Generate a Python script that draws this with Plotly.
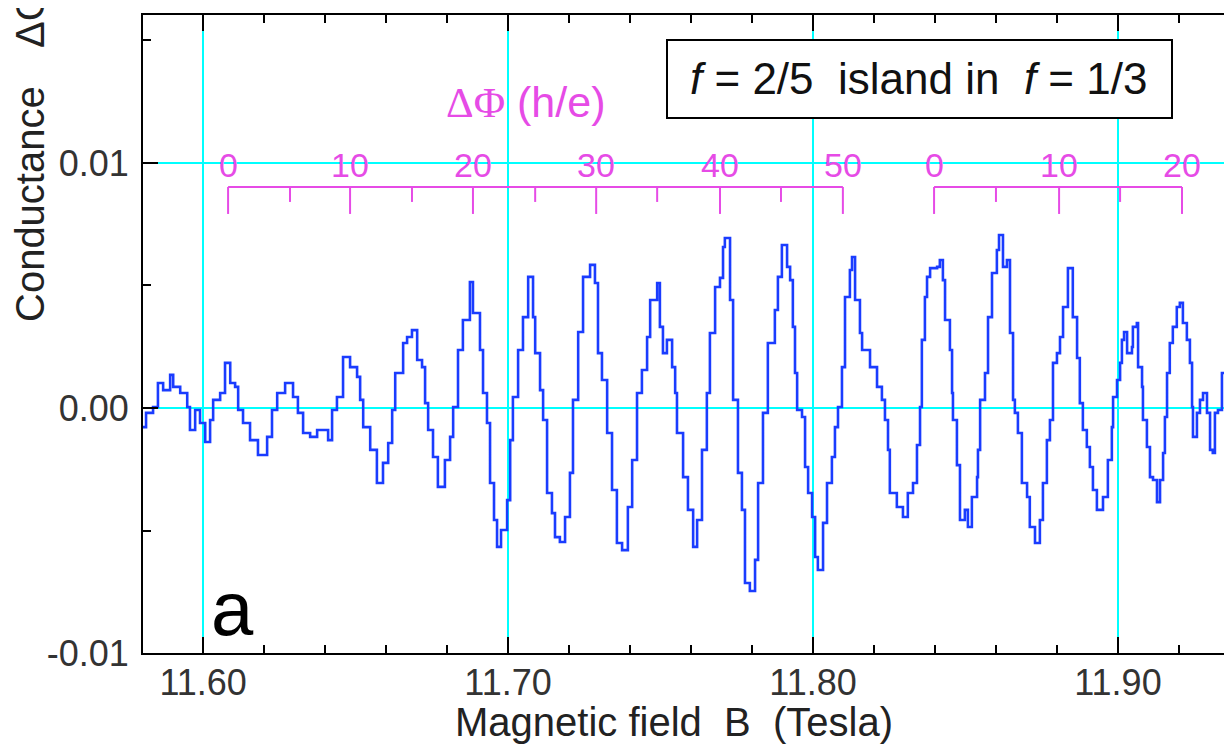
import plotly.graph_objects as go

# ---------------- data ----------------
B_tesla = [
    11.5803, 11.5813, 11.5836, 11.5852, 11.5869, 11.5892, 11.5902, 11.5925, 11.5948, 11.5957,
    11.5974, 11.5990, 11.6007, 11.6023, 11.6033, 11.6056, 11.6072, 11.6089, 11.6105, 11.6115,
    11.6131, 11.6154, 11.6180, 11.6210, 11.6226, 11.6243, 11.6269, 11.6295, 11.6311, 11.6328,
    11.6351, 11.6374, 11.6400, 11.6410, 11.6423, 11.6439, 11.6459, 11.6482, 11.6505, 11.6515,
    11.6525, 11.6548, 11.6570, 11.6590, 11.6607, 11.6620, 11.6630, 11.6656, 11.6669, 11.6685,
    11.6702, 11.6718, 11.6728, 11.6738, 11.6754, 11.6770, 11.6793, 11.6810, 11.6820, 11.6836,
    11.6852, 11.6875, 11.6885, 11.6908, 11.6918, 11.6931, 11.6941, 11.6954, 11.6964, 11.6977,
    11.6997, 11.7007, 11.7016, 11.7033, 11.7049, 11.7066, 11.7082, 11.7089, 11.7105, 11.7115,
    11.7128, 11.7144, 11.7154, 11.7170, 11.7187, 11.7203, 11.7213, 11.7230, 11.7246, 11.7269,
    11.7285, 11.7295, 11.7308, 11.7325, 11.7341, 11.7357, 11.7374, 11.7393, 11.7407, 11.7423,
    11.7439, 11.7456, 11.7466, 11.7489, 11.7498, 11.7508, 11.7521, 11.7538, 11.7548, 11.7554,
    11.7574, 11.7590, 11.7607, 11.7620, 11.7636, 11.7652, 11.7662, 11.7679, 11.7695, 11.7705,
    11.7711, 11.7728, 11.7738, 11.7754, 11.7767, 11.7777, 11.7793, 11.7810, 11.7820, 11.7836,
    11.7852, 11.7875, 11.7885, 11.7898, 11.7915, 11.7925, 11.7934, 11.7941, 11.7948, 11.7964,
    11.7974, 11.7984, 11.7997, 11.8007, 11.8016, 11.8033, 11.8046, 11.8062, 11.8072, 11.8082,
    11.8095, 11.8105, 11.8121, 11.8128, 11.8138, 11.8154, 11.8161, 11.8187, 11.8210, 11.8226,
    11.8236, 11.8246, 11.8252, 11.8275, 11.8295, 11.8311, 11.8328, 11.8341, 11.8351, 11.8357,
    11.8367, 11.8374, 11.8384, 11.8407, 11.8416, 11.8426, 11.8433, 11.8449, 11.8456, 11.8459,
    11.8472, 11.8482, 11.8498, 11.8508, 11.8521, 11.8538, 11.8541, 11.8548, 11.8564, 11.8574,
    11.8587, 11.8603, 11.8610, 11.8623, 11.8636, 11.8646, 11.8656, 11.8662, 11.8672, 11.8685,
    11.8702, 11.8711, 11.8728, 11.8744, 11.8754, 11.8767, 11.8777, 11.8787, 11.8800, 11.8810,
    11.8820, 11.8836, 11.8852, 11.8866, 11.8875, 11.8885, 11.8898, 11.8908, 11.8918, 11.8931,
    11.8951, 11.8967, 11.8980, 11.8984, 11.8997, 11.9007, 11.9013, 11.9020, 11.9030, 11.9046,
    11.9049, 11.9062, 11.9066, 11.9079, 11.9082, 11.9095, 11.9105, 11.9115, 11.9128, 11.9138,
    11.9148, 11.9154, 11.9161, 11.9170, 11.9180, 11.9193, 11.9203, 11.9213, 11.9226, 11.9236,
    11.9243, 11.9246, 11.9259, 11.9269, 11.9279, 11.9292, 11.9302, 11.9311, 11.9318, 11.9328,
    11.9341, 11.9357, 11.9361, 11.9367, 11.9374,
]

dG = [
    -0.00078, -0.00020, 0.00004, 0.00102, 0.00073, 0.00135, 0.00086, 0.00061, 0.00004, -0.00090,
    -0.00008, -0.00061, -0.00139, -0.00049, 0.00033, 0.00061, 0.00184, 0.00102, 0.00086, -0.00008,
    -0.00061, -0.00131, -0.00192, -0.00118, -0.00008, 0.00061, 0.00102, 0.00045, -0.00020, -0.00102,
    -0.00118, -0.00090, -0.00090, -0.00131, -0.00008, 0.00045, 0.00208, 0.00167, 0.00127, 0.00033,
    -0.00078, -0.00171, -0.00306, -0.00224, -0.00143, -0.00008, 0.00143, 0.00265, 0.00290, 0.00318,
    0.00196, 0.00167, 0.00020, -0.00090, -0.00200, -0.00322, -0.00212, -0.00118, 0.00004, 0.00237,
    0.00359, 0.00514, 0.00388, 0.00237, 0.00061, -0.00061, -0.00306, -0.00457, -0.00567, -0.00498,
    -0.00376, -0.00131, 0.00045, 0.00237, 0.00371, 0.00535, 0.00371, 0.00224, 0.00073, -0.00049,
    -0.00347, -0.00429, -0.00527, -0.00547, -0.00445, -0.00265, 0.00033, 0.00310, 0.00535, 0.00584,
    0.00510, 0.00224, 0.00114, -0.00102, -0.00335, -0.00551, -0.00580, -0.00404, -0.00212, 0.00061,
    0.00155, 0.00290, 0.00441, 0.00510, 0.00331, 0.00224, 0.00278, 0.00167, 0.00061, -0.00102,
    -0.00282, -0.00416, -0.00567, -0.00457, -0.00171, 0.00061, 0.00306, 0.00494, 0.00531, 0.00657,
    0.00694, 0.00441, 0.00033, -0.00265, -0.00416, -0.00714, -0.00747, -0.00620, -0.00306, -0.00020,
    0.00265, 0.00400, 0.00535, 0.00665, 0.00576, 0.00522, 0.00331, 0.00143, -0.00008, -0.00037,
    -0.00241, -0.00347, -0.00445, -0.00608, -0.00661, -0.00469, -0.00306, -0.00200, -0.00078, 0.00004,
    0.00167, 0.00453, 0.00563, 0.00616, 0.00441, 0.00306, 0.00237, 0.00167, 0.00086, 0.00033,
    -0.00049, -0.00171, -0.00347, -0.00404, -0.00445, -0.00347, -0.00306, -0.00151, 0.00004, 0.00278,
    0.00453, 0.00535, 0.00571, 0.00576, 0.00604, 0.00522, 0.00359, 0.00237, 0.00061, -0.00049,
    -0.00233, -0.00457, -0.00416, -0.00486, -0.00363, -0.00282, -0.00171, 0.00033, 0.00143, 0.00371,
    0.00551, 0.00645, 0.00706, 0.00576, 0.00604, 0.00306, 0.00033, -0.00020, -0.00102, -0.00306,
    -0.00363, -0.00486, -0.00551, -0.00457, -0.00306, -0.00131, -0.00049, 0.00184, 0.00224, 0.00290,
    0.00412, 0.00571, 0.00371, 0.00204, 0.00020, -0.00090, -0.00159, -0.00241, -0.00335, -0.00416,
    -0.00363, -0.00212, -0.00078, 0.00045, 0.00114, 0.00184, 0.00278, 0.00310, 0.00224, 0.00249,
    0.00331, 0.00347, 0.00167, 0.00086, -0.00049, -0.00159, -0.00282, -0.00294, -0.00384, -0.00294,
    -0.00184, -0.00037, 0.00143, 0.00265, 0.00331, 0.00412, 0.00429, 0.00347, 0.00278, 0.00184,
    0.00004, -0.00118, -0.00020, 0.00033, 0.00061, -0.00020, -0.00171, -0.00184, -0.00020, -0.00008,
    0.00143, 0.00143, 0.00061, -0.00131, -0.00131,
]

# flux scales (Delta Phi in h/e) : value -> field position
flux1_vals = [0, 5, 10, 15, 20, 25, 30, 35, 40, 45, 50]
flux1_B = [11.6082, 11.6285, 11.6482, 11.6685, 11.6885, 11.7089, 11.7289, 11.7489, 11.7695, 11.7895, 11.8098]
flux2_vals = [0, 5, 10, 15, 20]
flux2_B = [11.8397, 11.8600, 11.8807, 11.9007, 11.9210]

x_tickvals = [11.60, 11.70, 11.80, 11.90]
x_ticktext = ["11.60", "11.70", "11.80", "11.90"]
y_tickvals = [-0.01, 0.00, 0.01]
y_ticktext = ["-0.01", "0.00", "0.01"]

# ---------------- layout constants ----------------
# the page body adds an 8px offset; the figure is sized so that the plot
# area lands where it is in the reference window
OFF = 8
W, H = 1232 - OFF, 747 - OFF
ML, MR, MT, MB = 143 - OFF, 0, 15 - OFF, 94
PW, PH = W - ML - MR, H - MT - MB
FONT = "Liberation Sans, Arial, sans-serif"
MAG = "#e64be6"
CYAN = "#00ffff"
BLUE = "#1a3cff"


def px(xp):
    # window pixel -> paper fraction
    return (xp - OFF - ML) / PW


def py(yp):
    return (H - MB - (yp - OFF)) / PH


fig = go.Figure()
fig.add_trace(go.Scatter(
    x=B_tesla, y=dG, mode="lines", line=dict(color=BLUE, width=2.6, shape="hv"),
    showlegend=False, hoverinfo="skip",
))

shapes = []
bar_y = 0.00902
for vals, bs in ((flux1_vals, flux1_B), (flux2_vals, flux2_B)):
    shapes.append(dict(type="line", xref="x", yref="y", x0=bs[0], x1=bs[-1], y0=bar_y, y1=bar_y,
                       line=dict(color=MAG, width=2)))
    for v, b in zip(vals, bs):
        yend = 0.00792 if v % 10 == 0 else 0.00841
        shapes.append(dict(type="line", xref="x", yref="y", x0=b, x1=b, y0=bar_y, y1=yend,
                           line=dict(color=MAG, width=2)))

# framed label box
shapes.append(dict(type="rect", xref="paper", yref="paper", x0=px(667), x1=px(1172), y0=py(118), y1=py(40),
                   line=dict(color="black", width=2), fillcolor="white", layer="above"))

annotations = []
for vals, bs in ((flux1_vals, flux1_B), (flux2_vals, flux2_B)):
    for v, b in zip(vals, bs):
        if v % 10 == 0:
            annotations.append(dict(x=b, y=0.00992, xref="x", yref="y", text=str(v), showarrow=False,
                                    font=dict(family=FONT, size=34, color=MAG), xanchor="center", yanchor="middle"))

annotations += [
    dict(x=px(525), y=py(102), xref="paper", yref="paper",
         text='<span style="font-family:Liberation Serif, Times New Roman, serif">ΔΦ</span> (h/e)',
         showarrow=False, font=dict(family=FONT, size=43, color=MAG), xanchor="center", yanchor="middle"),
    dict(x=px(919), y=py(79), xref="paper", yref="paper",
         text="<i>f</i> = 2/5  island in  <i>f</i> = 1/3",
         showarrow=False, font=dict(family=FONT, size=44, color="#111111"), xanchor="center", yanchor="middle"),
    dict(x=px(232), y=py(608), xref="paper", yref="paper", text="a",
         showarrow=False, font=dict(family=FONT, size=76, color="black"), xanchor="center", yanchor="middle"),
    dict(x=px(674), y=py(722), xref="paper", yref="paper", text="Magnetic field  B  (Tesla)",
         showarrow=False, font=dict(family=FONT, size=40, color="#222222"), xanchor="center", yanchor="middle"),
    dict(x=px(30), y=py(204), xref="paper", yref="paper", text="Conductance", textangle=-90,
         showarrow=False, font=dict(family=FONT, size=40, color="#222222"), xanchor="center", yanchor="middle"),
    dict(x=px(30), y=py(19), xref="paper", yref="paper", text="ΔG", textangle=-90,
         showarrow=False, font=dict(family=FONT, size=40, color="#222222"), xanchor="center", yanchor="middle"),
]

fig.update_layout(
    width=W, height=H, margin=dict(l=ML, r=MR, t=MT, b=MB, pad=0, autoexpand=False),
    paper_bgcolor="white", plot_bgcolor="white",
    shapes=shapes, annotations=annotations, showlegend=False,
    xaxis=dict(range=[11.5803, 11.9374], tickvals=x_tickvals, ticktext=x_ticktext, automargin=False,
               showgrid=True, gridcolor=CYAN, gridwidth=2, zeroline=False,
               showline=True, linecolor="black", linewidth=2, mirror="ticks",
               ticks="inside", ticklen=16, tickwidth=2, tickcolor="black", ticklabelstandoff=-3,
               tickfont=dict(family=FONT, size=36, color="#333333"),
               minor=dict(tick0=11.60, dtick=0.02, ticks="inside", ticklen=8, tickwidth=2,
                          tickcolor="black", showgrid=False)),
    yaxis=dict(range=[-0.01, 0.01604], tickvals=y_tickvals, ticktext=y_ticktext, automargin=False,
               showgrid=True, gridcolor=CYAN, gridwidth=2, zeroline=False,
               showline=True, linecolor="black", linewidth=2, mirror=False,
               ticks="inside", ticklen=15, tickwidth=2, tickcolor="black", ticklabelstandoff=5,
               tickfont=dict(family=FONT, size=36, color="#333333"),
               minor=dict(tick0=0.0, dtick=0.005, ticks="inside", ticklen=8, tickwidth=2,
                          tickcolor="black", showgrid=False)),
)

fig.write_html("out.html")
